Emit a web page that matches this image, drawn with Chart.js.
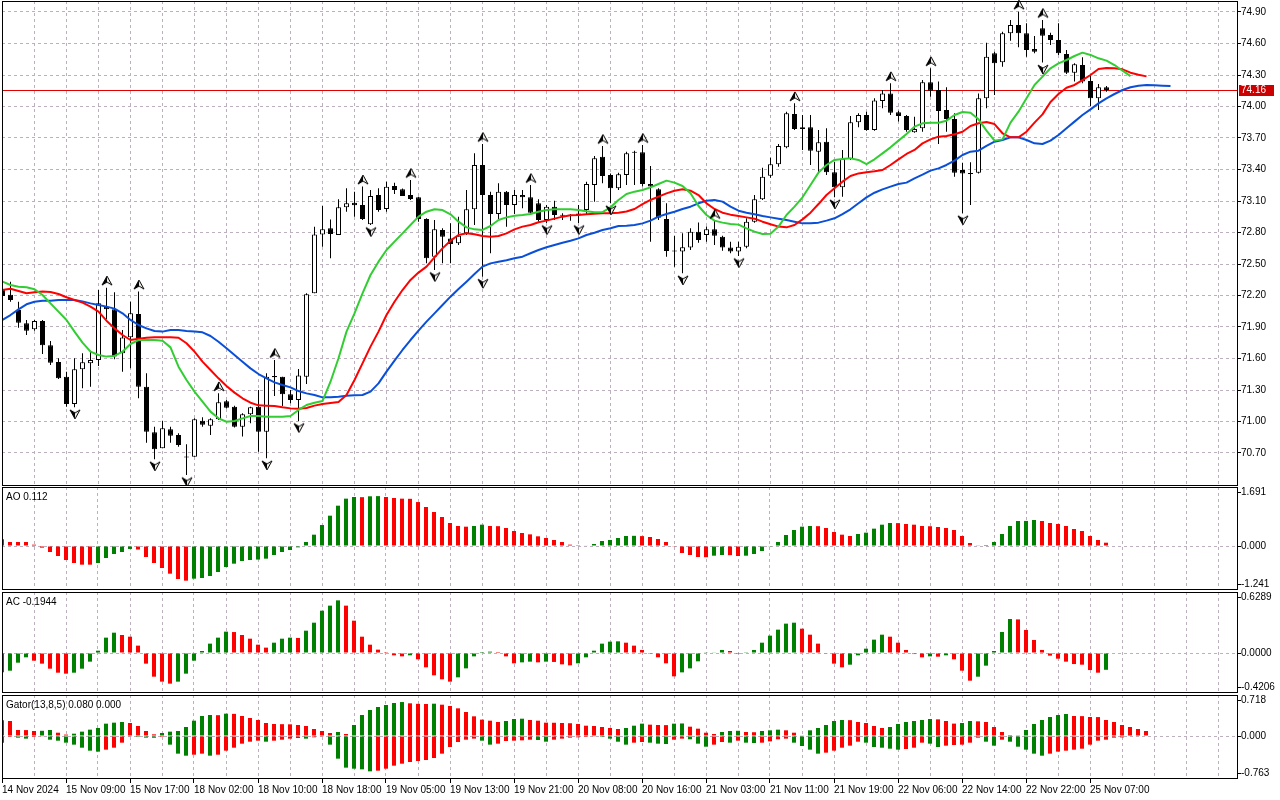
<!DOCTYPE html>
<html lang="en">
<head>
<meta charset="utf-8">
<title>H1 chart - Alligator, Fractals, AO, AC, Gator</title>
<script src="https://cdn.jsdelivr.net/npm/chart.js@4.4.1/dist/chart.umd.min.js"></script>
<style>
  html, body { margin: 0; padding: 0; background: #fff; }
  body { position: relative; width: 1280px; height: 800px; overflow: hidden; }
  .pane { position: absolute; left: 0; width: 1280px; }
  #pricePane { top: 0; height: 486px; }
  #aoPane { top: 487px; height: 103px; }
  #acPane { top: 592px; height: 101px; }
  #gatorPane { top: 695px; height: 105px; }
</style>
</head>
<body>
<div class="pane" id="pricePane"><canvas id="price"></canvas></div>
<div class="pane" id="aoPane"><canvas id="ao"></canvas></div>
<div class="pane" id="acPane"><canvas id="ac"></canvas></div>
<div class="pane" id="gatorPane"><canvas id="gator"></canvas></div>
<script>
const timeLabels = ['14 Nov 2024', '15 Nov 09:00', '15 Nov 17:00', '18 Nov 02:00', '18 Nov 10:00', '18 Nov 18:00',
  '19 Nov 05:00', '19 Nov 13:00', '19 Nov 21:00', '20 Nov 08:00', '20 Nov 16:00', '21 Nov 03:00',
  '21 Nov 11:00', '21 Nov 19:00', '22 Nov 06:00', '22 Nov 14:00', '22 Nov 22:00', '25 Nov 07:00'];

const priceTicks = [74.90, 74.60, 74.30, 74.00, 73.70, 73.40, 73.10, 72.80, 72.50, 72.20, 71.90, 71.60, 71.30, 71.00, 70.70];

const opens = [72.252, 72.208, 72.062, 71.935, 71.878, 71.957, 71.726, 71.567, 71.427, 71.167,
  71.497, 71.554, 71.586, 72.094, 72.068, 71.649, 71.802, 72.024, 71.332, 70.897,
  70.745, 70.926, 70.872, 70.665, 70.665, 71.008, 70.960, 71.021, 71.192, 71.141,
  70.951, 71.068, 71.141, 70.903, 71.433, 71.427, 71.259, 71.205, 71.427, 72.221,
  72.782, 72.840, 72.776, 73.040, 73.084, 73.062, 72.878, 73.157, 73.024, 73.243,
  73.211, 73.157, 73.135, 72.929, 72.570, 72.824, 72.744, 72.697, 72.792, 73.021,
  73.443, 73.157, 72.976, 73.189, 73.062, 73.157, 73.135, 73.078, 72.919, 73.046,
  72.967, 72.960, 72.964, 73.014, 73.252, 73.522, 73.348, 73.221, 73.348, 73.560,
  73.564, 73.262, 73.211, 72.929, 72.624, 72.618, 72.656, 72.808, 72.776, 72.830,
  72.760, 72.656, 72.618, 72.665, 72.903, 73.116, 73.341, 73.449, 73.611, 73.929,
  73.802, 73.802, 73.570, 73.665, 73.373, 73.230, 73.500, 73.849, 73.919, 73.776,
  74.052, 74.125, 73.945, 73.910, 73.754, 73.792, 74.230, 74.157, 73.967, 73.881,
  73.395, 73.363, 73.370, 74.078, 74.506, 74.421, 74.697, 74.776, 74.697, 74.548,
  74.745, 74.681, 74.633, 74.500, 74.322, 74.395, 74.243, 74.078, 74.183];

const highs = [72.316, 72.332, 72.141, 71.967, 71.967, 71.967, 71.767, 71.602, 71.475, 71.602,
  71.649, 71.675, 72.252, 72.275, 72.230, 71.872, 72.141, 72.237, 71.459, 70.951,
  71.008, 70.951, 70.887, 70.783, 71.030, 71.040, 71.030, 71.268, 71.205, 71.151,
  71.078, 71.141, 71.300, 71.459, 71.586, 71.427, 71.300, 71.500, 72.221, 72.855,
  73.052, 72.925, 73.116, 73.221, 73.189, 73.237, 73.205, 73.221, 73.284, 73.275,
  73.220, 73.300, 73.140, 72.935, 72.919, 72.840, 72.887, 72.951, 73.205, 73.554,
  73.643, 73.189, 73.268, 73.195, 73.205, 73.205, 73.252, 73.116, 73.062, 73.103,
  72.983, 72.976, 73.062, 73.284, 73.529, 73.624, 73.363, 73.370, 73.570, 73.579,
  73.633, 73.433, 73.221, 73.078, 72.767, 72.792, 72.840, 72.895, 72.856, 72.910,
  72.770, 72.713, 72.713, 72.935, 73.157, 73.417, 73.513, 73.643, 73.951, 74.030,
  73.919, 73.919, 73.776, 73.792, 73.475, 73.586, 73.910, 73.935, 73.951, 74.078,
  74.157, 74.221, 73.960, 73.919, 73.903, 74.252, 74.364, 74.237, 74.183, 73.935,
  73.465, 73.468, 74.125, 74.608, 74.522, 74.713, 74.824, 74.903, 74.792, 74.672,
  74.824, 74.703, 74.792, 74.538, 74.411, 74.468, 74.300, 74.214, 74.195];

const lows = [72.183, 72.141, 71.894, 71.824, 71.865, 71.643, 71.538, 71.405, 71.141, 71.135,
  71.316, 71.332, 71.529, 71.973, 71.592, 71.475, 71.506, 71.221, 70.798, 70.640,
  70.745, 70.798, 70.760, 70.490, 70.665, 70.951, 70.871, 71.014, 71.125, 70.944,
  70.856, 70.983, 70.713, 70.649, 71.243, 71.148, 71.173, 71.005, 71.357, 72.221,
  72.665, 72.554, 72.776, 72.998, 72.951, 72.919, 72.871, 72.998, 72.998, 73.167,
  73.148, 73.110, 72.903, 72.506, 72.443, 72.506, 72.506, 72.681, 72.776, 72.871,
  72.379, 72.602, 72.913, 72.855, 72.976, 73.030, 72.976, 72.903, 72.890, 72.919,
  72.919, 72.913, 72.890, 72.976, 73.094, 73.268, 73.078, 73.205, 73.252, 73.252,
  73.237, 72.713, 72.919, 72.570, 72.475, 72.411, 72.634, 72.703, 72.713, 72.681,
  72.627, 72.602, 72.576, 72.649, 72.894, 73.110, 73.322, 73.427, 73.602, 73.776,
  73.586, 73.443, 73.364, 73.348, 73.135, 73.141, 73.490, 73.802, 73.770, 73.770,
  73.983, 73.919, 73.856, 73.760, 73.751, 73.760, 74.094, 73.643, 73.760, 73.332,
  72.983, 73.062, 73.363, 73.983, 74.110, 74.379, 74.627, 74.564, 74.475, 74.506,
  74.418, 74.586, 74.490, 74.310, 74.237, 74.221, 74.005, 73.967, 74.141];

const closes = [72.195, 72.157, 71.941, 71.865, 71.957, 71.726, 71.560, 71.411, 71.167, 71.497,
  71.564, 71.586, 72.126, 72.068, 71.618, 71.799, 72.030, 71.332, 70.903, 70.735,
  70.935, 70.865, 70.776, 70.656, 71.021, 70.970, 71.021, 71.183, 71.132, 70.951,
  71.068, 71.135, 70.903, 71.427, 71.421, 71.259, 71.205, 71.437, 72.211, 72.782,
  72.830, 72.786, 73.040, 73.078, 73.059, 72.929, 73.148, 73.014, 73.236, 73.205,
  73.148, 73.119, 72.929, 72.554, 72.830, 72.760, 72.690, 72.770, 73.021, 73.443,
  73.157, 72.976, 73.189, 73.062, 73.157, 73.135, 72.989, 72.919, 73.046, 72.967,
  72.960, 72.964, 72.980, 73.262, 73.506, 73.338, 73.221, 73.354, 73.554, 73.570,
  73.262, 73.237, 72.941, 72.624, 72.618, 72.659, 72.808, 72.729, 72.830, 72.770,
  72.656, 72.618, 72.665, 72.903, 73.116, 73.332, 73.449, 73.624, 73.935, 73.786,
  73.786, 73.579, 73.659, 73.373, 73.230, 73.500, 73.849, 73.919, 73.776, 74.056,
  74.125, 73.941, 73.910, 73.776, 73.786, 74.230, 74.151, 73.957, 73.881, 73.370,
  73.363, 73.357, 74.078, 74.475, 74.411, 74.697, 74.776, 74.697, 74.538, 74.522,
  74.675, 74.633, 74.506, 74.322, 74.402, 74.237, 74.078, 74.183, 74.157];

// alligator lines as drawn (already shifted forward)
const jaw = [71.967, 72.014, 72.068, 72.116, 72.141, 72.151, 72.151, 72.157, 72.157, 72.157,
  72.144, 72.125, 72.110, 72.094, 72.075, 72.030, 71.967, 71.919, 71.887, 71.862,
  71.856, 71.871, 71.871, 71.862, 71.856, 71.849, 71.814, 71.760, 71.697, 71.633,
  71.570, 71.506, 71.452, 71.411, 71.373, 71.348, 71.325, 71.290, 71.268, 71.252,
  71.230, 71.230, 71.236, 71.246, 71.249, 71.252, 71.284, 71.363, 71.475, 71.579,
  71.681, 71.776, 71.865, 71.951, 72.030, 72.110, 72.189, 72.262, 72.332, 72.405,
  72.475, 72.506, 72.522, 72.535, 72.554, 72.570, 72.602, 72.633, 72.659, 72.681,
  72.703, 72.722, 72.744, 72.776, 72.798, 72.824, 72.840, 72.862, 72.865, 72.871,
  72.887, 72.913, 72.951, 72.976, 72.998, 73.024, 73.046, 73.078, 73.103, 73.110,
  73.094, 73.046, 73.008, 72.989, 72.973, 72.957, 72.944, 72.932, 72.919, 72.903,
  72.887, 72.887, 72.894, 72.913, 72.935, 72.976, 73.021, 73.078, 73.135, 73.179,
  73.211, 73.237, 73.262, 73.275, 73.316, 73.351, 73.389, 73.411, 73.443, 73.484,
  73.538, 73.570, 73.579, 73.624, 73.665, 73.681, 73.706, 73.706, 73.681, 73.649,
  73.643, 73.675, 73.729, 73.792, 73.856, 73.919, 73.973, 74.030, 74.078, 74.119,
  74.157, 74.183, 74.198, 74.205, 74.202, 74.198, 74.195];

const teeth = [72.252, 72.265, 72.243, 72.221, 72.230, 72.237, 72.233, 72.214, 72.183, 72.157,
  72.132, 72.094, 72.046, 71.960, 71.887, 71.824, 71.776, 71.789, 71.798, 71.802,
  71.802, 71.802, 71.798, 71.745, 71.665, 71.570, 71.490, 71.411, 71.338, 71.275,
  71.221, 71.179, 71.154, 71.151, 71.148, 71.135, 71.125, 71.122, 71.128, 71.151,
  71.167, 71.176, 71.186, 71.252, 71.395, 71.554, 71.713, 71.856, 72.014, 72.141,
  72.252, 72.348, 72.418, 72.475, 72.563, 72.649, 72.722, 72.776, 72.792, 72.783,
  72.767, 72.760, 72.767, 72.792, 72.830, 72.856, 72.871, 72.897, 72.913, 72.932,
  72.951, 72.964, 72.967, 72.973, 72.979, 72.983, 72.983, 72.989, 73.000, 73.024,
  73.071, 73.110, 73.141, 73.173, 73.198, 73.211, 73.198, 73.157, 73.078, 73.024,
  72.989, 72.970, 72.957, 72.944, 72.932, 72.903, 72.878, 72.856, 72.849, 72.871,
  72.925, 72.989, 73.071, 73.157, 73.221, 73.284, 73.338, 73.363, 73.373, 73.383,
  73.395, 73.443, 73.497, 73.548, 73.586, 73.649, 73.687, 73.713, 73.719, 73.735,
  73.760, 73.814, 73.840, 73.852, 73.833, 73.745, 73.706, 73.706, 73.760, 73.846,
  73.925, 74.043, 74.119, 74.179, 74.205, 74.252, 74.300, 74.357, 74.367, 74.364,
  74.354, 74.322, 74.303, 74.287];

const lips = [72.332, 72.300, 72.284, 72.278, 72.259, 72.205, 72.125, 72.046, 71.967, 71.856,
  71.751, 71.665, 71.633, 71.618, 71.624, 71.665, 71.738, 71.776, 71.776, 71.776,
  71.770, 71.706, 71.522, 71.395, 71.284, 71.189, 71.094, 71.030, 70.998, 71.005,
  71.030, 71.052, 71.052, 71.046, 71.046, 71.046, 71.052, 71.110, 71.157, 71.179,
  71.195, 71.379, 71.602, 71.856, 72.030, 72.221, 72.395, 72.522, 72.633, 72.713,
  72.792, 72.871, 72.951, 72.998, 73.021, 73.014, 72.973, 72.903, 72.849, 72.830,
  72.824, 72.862, 72.919, 72.944, 72.960, 72.967, 72.976, 72.998, 73.014, 73.021,
  73.021, 73.021, 73.014, 73.002, 72.992, 72.995, 73.040, 73.110, 73.167, 73.189,
  73.205, 73.230, 73.262, 73.294, 73.275, 73.243, 73.173, 73.052, 72.967, 72.913,
  72.894, 72.881, 72.875, 72.840, 72.808, 72.786, 72.789, 72.856, 72.967, 73.046,
  73.135, 73.252, 73.370, 73.443, 73.491, 73.500, 73.506, 73.491, 73.452, 73.497,
  73.554, 73.611, 73.675, 73.738, 73.808, 73.840, 73.846, 73.846, 73.865, 73.919,
  73.948, 73.941, 73.878, 73.770, 73.675, 73.687, 73.846, 73.951, 74.078, 74.205,
  74.284, 74.364, 74.411, 74.443, 74.481, 74.513, 74.491, 74.459, 74.437, 74.395,
  74.341, 74.290];

const upFractals = [13, 17, 27, 34, 45, 51, 60, 66, 75, 80, 89, 99, 111, 116, 127, 130];
const downFractals = [9, 19, 23, 33, 37, 46, 54, 60, 68, 72, 76, 85, 92, 104, 120, 130];

const aoValues = [0.226, 0.136, 0.136, 0.136, 0.045, -0.056, -0.203, -0.339, -0.475, -0.576,
  -0.633, -0.633, -0.576, -0.407, -0.271, -0.203, -0.100, -0.120, -0.373, -0.576,
  -0.746, -0.938, -1.119, -1.175, -1.107, -1.085, -1.017, -0.881, -0.712, -0.599,
  -0.508, -0.475, -0.460, -0.429, -0.305, -0.203, -0.136, -0.045, 0.136, 0.384,
  0.712, 1.028, 1.367, 1.605, 1.661, 1.655, 1.685, 1.691, 1.661, 1.627,
  1.605, 1.600, 1.490, 1.322, 1.153, 0.983, 0.780, 0.678, 0.655, 0.678,
  0.723, 0.678, 0.672, 0.610, 0.508, 0.441, 0.395, 0.328, 0.271, 0.203,
  0.136, 0.045, 0.006, 0.015, 0.068, 0.169, 0.203, 0.271, 0.339, 0.345,
  0.335, 0.305, 0.237, 0.136, -0.011, -0.237, -0.305, -0.373, -0.380, -0.328,
  -0.305, -0.310, -0.339, -0.328, -0.271, -0.169, -0.023, 0.136, 0.373, 0.542,
  0.655, 0.678, 0.672, 0.610, 0.475, 0.384, 0.339, 0.407, 0.452, 0.588,
  0.723, 0.780, 0.775, 0.746, 0.723, 0.678, 0.670, 0.644, 0.610, 0.542,
  0.339, 0.102, 0.011, 0.034, 0.136, 0.407, 0.678, 0.847, 0.850, 0.881,
  0.847, 0.780, 0.746, 0.678, 0.576, 0.508, 0.339, 0.203, 0.112];

const acValues = [-0.242, -0.221, -0.121, -0.054, -0.096, -0.133, -0.196, -0.246, -0.258, -0.246,
  -0.196, -0.108, 0.029, 0.192, 0.254, 0.225, 0.204, 0.092, -0.133, -0.296,
  -0.358, -0.383, -0.358, -0.258, -0.096, 0.025, 0.117, 0.192, 0.267, 0.262,
  0.225, 0.179, 0.104, 0.067, 0.129, 0.179, 0.192, 0.188, 0.279, 0.379,
  0.529, 0.592, 0.658, 0.592, 0.404, 0.204, 0.104, 0.042, 0.002, -0.029,
  -0.042, -0.029, -0.079, -0.179, -0.279, -0.329, -0.358, -0.304, -0.192, -0.042,
  0.012, 0.017, 0.012, -0.042, -0.129, -0.117, -0.108, -0.117, -0.108, -0.112,
  -0.142, -0.154, -0.129, -0.054, 0.029, 0.117, 0.142, 0.146, 0.129, 0.092,
  0.038, -0.002, -0.054, -0.129, -0.292, -0.242, -0.192, -0.104, 0.004, 0.008,
  0.038, 0.025, -0.001, 0.003, 0.038, 0.129, 0.217, 0.292, 0.367, 0.379,
  0.304, 0.229, 0.117, -0.004, -0.133, -0.179, -0.146, -0.029, 0.054, 0.167,
  0.229, 0.204, 0.129, 0.038, -0.013, -0.054, -0.042, -0.046, -0.029, -0.079,
  -0.221, -0.346, -0.296, -0.158, 0.025, 0.263, 0.425, 0.420, 0.288, 0.163,
  0.038, -0.033, -0.071, -0.108, -0.138, -0.146, -0.213, -0.246, -0.210];

const gatorUpper = [0.331, 0.317, 0.127, 0.125, 0.106, 0.110, 0.127, 0.070, 0.030, 0.049,
  0.092, 0.134, 0.169, 0.261, 0.282, 0.296, 0.275, 0.211, 0.106, 0.035,
  0.063, 0.092, 0.106, 0.190, 0.324, 0.423, 0.444, 0.440, 0.472, 0.468,
  0.423, 0.381, 0.338, 0.275, 0.254, 0.250, 0.247, 0.233, 0.211, 0.148,
  0.106, 0.063, 0.085, 0.042, 0.233, 0.444, 0.550, 0.613, 0.655, 0.698,
  0.718, 0.691, 0.680, 0.676, 0.683, 0.662, 0.634, 0.585, 0.507, 0.416,
  0.346, 0.324, 0.296, 0.317, 0.359, 0.366, 0.338, 0.324, 0.282, 0.280,
  0.275, 0.270, 0.254, 0.218, 0.211, 0.190, 0.169, 0.148, 0.169, 0.218,
  0.261, 0.240, 0.233, 0.230, 0.261, 0.265, 0.197, 0.155, 0.070, 0.042,
  0.085, 0.106, 0.110, 0.085, 0.080, 0.106, 0.120, 0.134, 0.120, 0.070,
  0.014, 0.120, 0.169, 0.233, 0.317, 0.338, 0.335, 0.296, 0.275, 0.211,
  0.169, 0.190, 0.254, 0.296, 0.317, 0.338, 0.359, 0.352, 0.317, 0.262,
  0.275, 0.317, 0.310, 0.296, 0.190, 0.085, 0.021, 0.005, 0.127, 0.254,
  0.338, 0.402, 0.444, 0.465, 0.423, 0.420, 0.402, 0.400, 0.338, 0.296,
  0.233, 0.190, 0.148, 0.106];

const gatorLower = [-0.141, -0.021, -0.035, -0.056, -0.021, -0.014, -0.078, -0.099, -0.141, -0.183,
  -0.247, -0.310, -0.331, -0.289, -0.247, -0.141, -0.014, -0.021, -0.035, -0.037,
  -0.021, -0.183, -0.373, -0.416, -0.395, -0.373, -0.416, -0.395, -0.310, -0.247,
  -0.162, -0.120, -0.099, -0.120, -0.099, -0.078, -0.056, -0.042, -0.056, -0.028,
  -0.014, -0.183, -0.479, -0.669, -0.691, -0.705, -0.747, -0.733, -0.691, -0.627,
  -0.585, -0.550, -0.529, -0.507, -0.465, -0.373, -0.233, -0.127, -0.078, -0.056,
  -0.099, -0.183, -0.162, -0.106, -0.099, -0.092, -0.078, -0.085, -0.120, -0.078,
  -0.056, -0.035, -0.028, -0.021, -0.014, -0.021, -0.056, -0.120, -0.183, -0.141,
  -0.127, -0.141, -0.162, -0.169, -0.078, -0.056, -0.070, -0.162, -0.226, -0.183,
  -0.127, -0.141, -0.099, -0.141, -0.148, -0.141, -0.113, -0.070, -0.056, -0.141,
  -0.211, -0.289, -0.373, -0.352, -0.310, -0.247, -0.204, -0.120, -0.141, -0.233,
  -0.247, -0.268, -0.289, -0.275, -0.247, -0.141, -0.162, -0.233, -0.204, -0.190,
  -0.183, -0.141, -0.035, -0.120, -0.204, -0.078, -0.120, -0.226, -0.289, -0.373,
  -0.416, -0.373, -0.331, -0.310, -0.289, -0.268, -0.183, -0.099, -0.078, -0.035,
  -0.030, -0.010];

const aoScaleLabels = ['1.691', '0.000', '-1.241'];
const acScaleLabels = ['0.6289', '0.0000', '-0.4206'];
const gatorScaleLabels = ['0.718', '0.000', '-0.763'];

const aoTitle = 'AO 0.112';
const acTitle = 'AC -0.1944';
const gatorTitle = 'Gator(13,8,5) 0.080 0.000';

// ---- look ----
const GRID = '#bcb0bf';
const UP = '#008000';
const DOWN = '#ff0000';
const FONT = { family: "'Liberation Sans', Arial, sans-serif", size: 10 };
const FONT_CSS = "10px 'Liberation Sans', Arial, sans-serif";
const SLOTS = 154.5;           // bar slots across the plot, 8 px each
const lastPrice = closes[closes.length - 1];

const gridSlots = [];
for (let v = 0; v <= 152; v += 4) gridSlots.push(v);

const common = {
  responsive: true,
  maintainAspectRatio: false,
  animation: false,
  devicePixelRatio: 1,
  events: [],
  plugins: { legend: { display: false }, tooltip: { enabled: false } }
};

const framePlugin = {
  id: 'frame',
  afterDraw(chart) {
    const { ctx, chartArea: a } = chart;
    ctx.save();
    ctx.strokeStyle = '#000';
    ctx.lineWidth = 1;
    ctx.strokeRect(a.left + 0.5, a.top + 0.5, a.right - a.left - 1, a.bottom - a.top - 1);
    ctx.restore();
  }
};

function titlePlugin(text) {
  return {
    id: 'paneTitle',
    afterDraw(chart) {
      const { ctx, chartArea: a } = chart;
      ctx.save();
      ctx.font = FONT_CSS;
      ctx.fillStyle = '#000';
      ctx.textBaseline = 'middle';
      ctx.fillText(text, a.left + 4, a.top + 10);
      ctx.restore();
    }
  };
}

const bidPlugin = {
  id: 'bid',
  beforeDatasetsDraw(chart) {
    const { ctx, chartArea: a, scales: { y } } = chart;
    const py = Math.round(y.getPixelForValue(lastPrice)) + 0.5;
    ctx.save();
    ctx.strokeStyle = '#e00000';
    ctx.lineWidth = 1;
    ctx.beginPath();
    ctx.moveTo(a.left, py);
    ctx.lineTo(a.right, py);
    ctx.stroke();
    ctx.restore();
  },
  afterDraw(chart) {
    const { ctx, chartArea: a, scales: { y } } = chart;
    const py = Math.round(y.getPixelForValue(lastPrice));
    ctx.save();
    ctx.fillStyle = '#cc0000';
    ctx.fillRect(a.right + 1, py - 5, 35, 11);
    ctx.font = FONT_CSS;
    ctx.fillStyle = '#fff';
    ctx.textBaseline = 'middle';
    ctx.fillText(lastPrice.toFixed(2), a.right + 3, py + 0.5);
    ctx.restore();
  }
};

function timeAxis(min, withLabels) {
  return {
    type: 'linear',
    min: min,
    max: min + SLOTS,
    offset: false,
    afterBuildTicks: s => { s.ticks = gridSlots.map(v => ({ value: v })); },
    afterFit: s => { s.height = withLabels ? 21 : 0; s.paddingLeft = 0; s.paddingRight = 0; },
    ticks: {
      display: withLabels, autoSkip: false, maxRotation: 0, minRotation: 0,
      align: 'start', padding: 1, color: '#000', font: FONT,
      callback: v => (v % 8 === 0 && timeLabels[v / 8]) || ''
    },
    grid: {
      offset: false,
      color: c => (c.tick && c.tick.value > 0 ? GRID : 'rgba(0,0,0,0)'),
      drawTicks: withLabels,
      tickLength: 4,
      tickColor: c => (c.tick && c.tick.value % 8 === 0 && timeLabels[c.tick.value / 8] ? '#000' : 'rgba(0,0,0,0)')
    },
    border: { display: false, dash: [3, 3] }
  };
}

function trendColors(values, useMagnitude, first) {
  return values.map((v, i) => {
    if (i === 0) return first;
    const cur = useMagnitude ? Math.abs(v) : v;
    const prev = useMagnitude ? Math.abs(values[i - 1]) : values[i - 1];
    return cur > prev ? UP : DOWN;
  });
}

// fractal arrowhead, drawn off-centre so it sits just beyond the candle's extreme
function arrowIcon(up) {
  const c = document.createElement('canvas');
  c.width = 13;
  c.height = 35;
  const g = c.getContext('2d');
  const cx = 7;
  const cy = up ? 10.5 : 24.5;
  const d = up ? 1 : -1;
  const tip = [cx, cy - 4.5 * d], right = [cx + 5, cy + 4.5 * d], notch = [cx, cy + 1.5 * d], left = [cx - 5, cy + 4.5 * d];
  g.lineJoin = 'miter';
  g.beginPath();
  g.moveTo(...tip); g.lineTo(...right); g.lineTo(...notch); g.closePath();
  g.fillStyle = '#f4f0e8';
  g.fill();
  g.beginPath();
  g.moveTo(...tip); g.lineTo(...notch); g.lineTo(...left); g.closePath();
  g.fillStyle = '#000';
  g.fill();
  g.beginPath();
  g.moveTo(...tip); g.lineTo(...right); g.lineTo(...notch); g.lineTo(...left); g.closePath();
  g.strokeStyle = '#000';
  g.lineWidth = 1;
  g.stroke();
  return c;
}

const pts = arr => arr.map((v, i) => ({ x: i, y: v }));

// ---- price pane ----
const wicks = opens.map((_, i) => ({ x: i, y: [lows[i], highs[i]] }));
const bodies = opens.map((o, i) => ({ x: i, y: [o, closes[i]] }));
const bodyFill = opens.map((o, i) => (closes[i] > o ? '#ffffff' : '#000000'));

const priceMax = 74.90 + 11 / 105;
const priceMin = priceMax - 485 / 105;

function lineSet(values, color, order) {
  return {
    type: 'line', data: pts(values), borderColor: color, borderWidth: 2,
    pointRadius: 0, tension: 0, order: order, borderJoinStyle: 'round'
  };
}

new Chart(document.getElementById('price'), {
  type: 'bar',
  data: {
    datasets: [
      { data: wicks, backgroundColor: '#000', barThickness: 1, maxBarThickness: 1, grouped: false,
        borderWidth: 0, inflateAmount: 0, order: 5 },
      { data: bodies, backgroundColor: bodyFill, borderColor: '#000', borderWidth: 1, borderSkipped: false,
        barThickness: 5, maxBarThickness: 5, grouped: false, minBarLength: 1, inflateAmount: 0, order: 4 },
      lineSet(jaw, '#0a4fd8', 3),
      lineSet(teeth, '#ff0000', 2),
      lineSet(lips, '#32cd32', 1),
      { type: 'line', data: upFractals.map(i => ({ x: i, y: highs[i] })), showLine: false,
        pointStyle: arrowIcon(true), pointRadius: 3, clip: false, order: 0 },
      { type: 'line', data: downFractals.map(i => ({ x: i, y: lows[i] })), showLine: false,
        pointStyle: arrowIcon(false), pointRadius: 3, clip: false, order: 0 }
    ]
  },
  options: {
    ...common,
    layout: { autoPadding: false, padding: { left: 2, top: 1, right: 0, bottom: 0 } },
    scales: {
      x: timeAxis(-0.0625, false),
      y: {
        position: 'right', min: priceMin, max: priceMax,
        afterBuildTicks: s => { s.ticks = priceTicks.map(v => ({ value: v })); },
        afterFit: s => { s.width = 42; s.paddingTop = 0; s.paddingBottom = 0; },
        ticks: { padding: 0, color: '#000', font: FONT, callback: v => v.toFixed(2) },
        grid: { color: GRID, tickColor: '#000', tickLength: 3 },
        border: { display: false, dash: [3, 3] }
      }
    }
  },
  plugins: [bidPlugin, framePlugin]
});

// ---- oscillator panes ----
const histBar = { barThickness: 4, maxBarThickness: 4, grouped: false, borderWidth: 0, inflateAmount: 0 };

function oscillator(id, cfg) {
  const max = cfg.zero / cfg.ppu;
  const min = -(cfg.plotHeight - cfg.zero) / cfg.ppu;
  const edge = 5.5 / cfg.ppu;
  return new Chart(document.getElementById(id), {
    type: 'bar',
    data: { datasets: cfg.datasets },
    options: {
      ...common,
      layout: { autoPadding: false, padding: { left: 2, top: 0, right: 0, bottom: 0 } },
      scales: {
        x: timeAxis(0, cfg.withTime),
        y: {
          position: 'right', min: min, max: max,
          afterBuildTicks: s => { s.ticks = [{ value: max - edge }, { value: 0 }, { value: min + edge }]; },
          afterFit: s => { s.width = 42; s.paddingTop = 0; s.paddingBottom = 0; },
          ticks: { padding: 0, color: '#000', font: FONT, callback: (v, i) => cfg.scaleLabels[i] },
          grid: { color: c => (c.tick && c.tick.value === 0 ? GRID : 'rgba(0,0,0,0)'), tickColor: '#000', tickLength: 3 },
          border: { display: false, dash: [3, 3] }
        }
      }
    },
    plugins: [framePlugin, titlePlugin(cfg.title)]
  });
}

oscillator('ao', {
  plotHeight: 103, zero: 59, ppu: 29.5, title: aoTitle, scaleLabels: aoScaleLabels, withTime: false,
  datasets: [{ data: pts(aoValues), backgroundColor: trendColors(aoValues, false, DOWN), ...histBar }]
});

oscillator('ac', {
  plotHeight: 101, zero: 61, ppu: 80, title: acTitle, scaleLabels: acScaleLabels, withTime: false,
  datasets: [{ data: pts(acValues), backgroundColor: trendColors(acValues, false, UP), ...histBar }]
});

oscillator('gator', {
  plotHeight: 84, zero: 41, ppu: 47.3, title: gatorTitle, scaleLabels: gatorScaleLabels, withTime: true,
  datasets: [
    { data: pts(gatorUpper), backgroundColor: trendColors(gatorUpper, false, DOWN), ...histBar },
    { data: pts(gatorLower), backgroundColor: trendColors(gatorLower, true, DOWN), ...histBar }
  ]
});
</script>
</body>
</html>
